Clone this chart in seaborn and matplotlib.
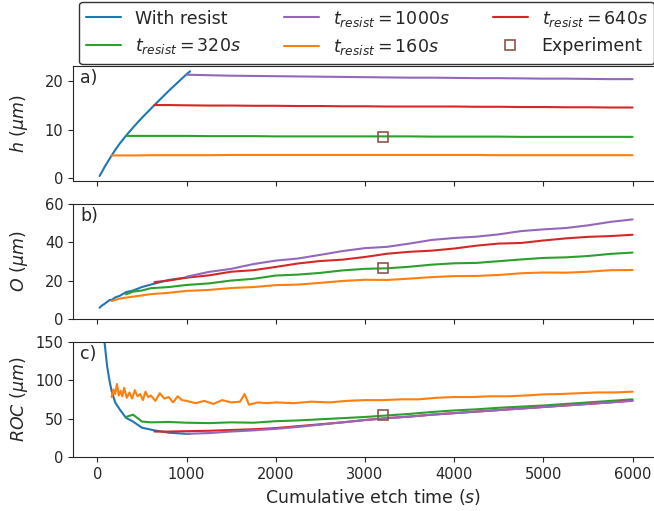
import matplotlib
matplotlib.use('Agg')
import matplotlib.pyplot as plt
from matplotlib.lines import Line2D
import seaborn as sns

# --- data (time in s, values in um) ---
t_wr = [25, 50, 80, 110, 140, 160, 200, 250, 320, 400, 500, 640, 800, 1000, 1040]
h_wr = [0.5, 1.3, 2.3, 3.2, 4.1, 4.7, 5.8, 7.1, 8.7, 10.4, 12.4, 15.0, 17.9, 21.3, 21.9]
o_wr = [5.8, 6.9, 7.8, 8.9, 9.9, 9.8, 11.2, 12.0, 13.9, 14.8, 16.6, 18.4, 20.3, 21.6, 22.2]
roc_wr = [260, 200, 150, 118, 97, 86, 71, 62, 51, 46, 38, 34.5, 31.5, 30, 30]

t_160 = [160, 250, 400, 600, 800, 1000, 1250, 1500, 1750, 2000, 2250, 2500, 2750, 3000, 3250, 3500,
         3750, 4000, 4250, 4500, 4750, 5000, 5250, 5500, 5750, 6000]
h_160 = [4.7, 4.7, 4.7, 4.75, 4.75, 4.75, 4.75, 4.8, 4.8, 4.8, 4.8, 4.8, 4.8, 4.8, 4.8, 4.8,
         4.8, 4.8, 4.8, 4.75, 4.75, 4.75, 4.75, 4.75, 4.75, 4.75]
o_160 = [9.3, 10.6, 11.6, 12.9, 13.6, 14.6, 15.1, 16.1, 16.6, 17.6, 17.9, 18.8, 19.8, 20.4, 20.3, 21.0,
         21.8, 22.3, 22.4, 22.9, 23.8, 24.2, 24.1, 24.6, 25.4, 25.5]

t_160_roc = [160, 180, 200, 220, 240, 260, 280, 300, 330, 360,
             390, 420, 450, 480, 510, 540, 570, 600, 650, 700,
             750, 800, 850, 900, 950, 1000, 1100, 1200, 1300, 1400,
             1500, 1600, 1650, 1700, 1800, 1900, 2000, 2200, 2400, 2600,
             2800, 3000, 3200, 3400, 3600, 3800, 4000, 4200, 4400, 4600,
             4800, 5000, 5200, 5400, 5600, 5800, 6000]
roc_160 = [78, 88, 82, 95, 80, 86, 79, 90, 77, 84,
           76, 87, 79, 82, 74, 85, 78, 80, 73, 83,
           76, 78, 71, 79, 74, 73, 70, 73, 69, 74,
           71, 72, 82, 68, 71, 70, 71, 70, 72, 71,
           73, 74, 74, 75, 75, 77, 78, 78, 79, 79,
           80, 81.5, 82, 83, 84, 84, 85]

t_320 = [320, 400, 500, 600, 800, 1000, 1250, 1500, 1750, 2000, 2250, 2500, 2750, 3000, 3250, 3500,
         3750, 4000, 4250, 4500, 4750, 5000, 5250, 5500, 5750, 6000]
h_320 = [8.7, 8.7, 8.7, 8.7, 8.7, 8.7, 8.65, 8.65, 8.65, 8.6, 8.6, 8.6, 8.6, 8.6, 8.6, 8.6,
         8.55, 8.55, 8.55, 8.55, 8.5, 8.5, 8.5, 8.5, 8.5, 8.5]
o_320 = [12.8, 14.2, 14.8, 16.0, 16.6, 17.7, 18.5, 20.0, 20.9, 22.6, 23.1, 24.0, 25.3, 26.1, 26.4, 27.2,
         28.3, 29.0, 29.2, 30.1, 31.0, 31.8, 32.1, 32.8, 33.9, 34.6]
roc_320 = [52, 55, 46, 45, 45.5, 44.5, 44, 45, 44.5, 46.5, 47.5, 49, 50.5, 52, 54, 56,
           58.5, 60.5, 62, 64, 65.5, 67, 69, 71, 73, 75]

t_640 = [640, 800, 1000, 1250, 1500, 1750, 2000, 2250, 2500, 2750, 3000, 3250, 3500, 3750, 4000,
         4250, 4500, 4750, 5000, 5250, 5500, 5750, 6000]
h_640 = [15.0, 15.0, 14.95, 14.9, 14.9, 14.85, 14.85, 14.8, 14.8, 14.75, 14.75, 14.7, 14.7, 14.7, 14.7,
         14.65, 14.65, 14.6, 14.6, 14.55, 14.55, 14.5, 14.5]
o_640 = [19.2, 20.0, 21.5, 22.7, 24.6, 25.4, 27.1, 28.9, 30.2, 30.9, 32.3, 34.0, 35.0, 35.6, 36.7,
         38.2, 39.3, 39.6, 40.9, 42.0, 42.8, 43.2, 43.9]
roc_640 = [33, 33, 33.5, 34, 35, 36, 37.5, 40, 42.5, 45, 48, 50.5, 52.5, 55, 57,
           59, 61, 63, 65, 67, 69, 71, 73.5]

t_1000 = [1000, 1250, 1500, 1750, 2000, 2250, 2500, 2750, 3000, 3250, 3500, 3750, 4000, 4250, 4500,
          4750, 5000, 5250, 5500, 5750, 6000]
h_1000 = [21.2, 21.1, 21.0, 20.95, 20.9, 20.85, 20.8, 20.75, 20.7, 20.65, 20.6, 20.6, 20.55, 20.5, 20.5,
          20.45, 20.4, 20.4, 20.35, 20.3, 20.3]
o_1000 = [22.0, 24.5, 26.1, 28.6, 30.4, 31.5, 33.4, 35.4, 36.9, 37.6, 39.3, 41.2, 42.2, 42.9, 44.1,
          45.8, 46.7, 47.4, 48.8, 50.6, 51.9]
roc_1000 = [30, 31, 33, 34.5, 36.5, 39, 42, 45, 48, 50.5, 52.5, 55, 57, 59, 61,
            63, 65, 67, 69, 71, 73]

t_exp = [3200]
h_exp = [8.5]
o_exp = [26.5]
roc_exp = [55]

sns.set_style('ticks')
plt.rcParams['font.family'] = ['DejaVu Sans']
plt.rcParams['mathtext.fontset'] = 'dejavusans'

cols = sns.color_palette('tab10')

fig, axes = plt.subplots(3, 1, figsize=(6.54, 5.11), dpi=100, sharex=True)
# axes run past the right edge of the picture, as in the cropped original
fig.subplots_adjust(left=0.112, right=1.03, top=0.871, bottom=0.106, hspace=0.2)

series = [
    (t_wr, [h_wr, o_wr, roc_wr], cols[0]),
    (t_160, [h_160, o_160, None], cols[1]),
    (t_320, [h_320, o_320, roc_320], cols[2]),
    (t_640, [h_640, o_640, roc_640], cols[3]),
    (t_1000, [h_1000, o_1000, roc_1000], cols[4]),
]

for i, ax in enumerate(axes):
    for t, vals, c in series:
        v = vals[i]
        tt = t
        if v is None:
            tt, v = t_160_roc, roc_160
        sns.lineplot(x=tt, y=v, ax=ax, color=c, lw=1.5, legend=False,
                     estimator=None, sort=False)
    exp = [h_exp, o_exp, roc_exp][i]
    ax.plot(t_exp, exp, 's', mfc='none', mec=cols[5], ms=7, mew=1.2)

ylabels = [r'$h\ (\mu m)$', r'$O\ (\mu m)$', r'$ROC\ (\mu m)$']
tags = ['a)', 'b)', 'c)']
for ax, yl, tag in zip(axes, ylabels, tags):
    ax.set_ylabel(yl, fontsize=12.5)
    ax.text(0.012, 0.97, tag, transform=ax.transAxes, va='top', ha='left', fontsize=12.5)
    ax.tick_params(labelsize=10.5)

axes[0].set_ylim(-0.5, 23)
axes[0].set_yticks([0, 10, 20])
axes[1].set_ylim(0, 60)
axes[1].set_yticks([0, 20, 40, 60])
axes[2].set_ylim(0, 150)
axes[2].set_yticks([0, 50, 100, 150])
axes[2].set_xlim(-270, 6460)
axes[2].set_xticks([0, 1000, 2000, 3000, 4000, 5000, 6000])
axes[2].set_xlabel(r'Cumulative etch time $(s)$', fontsize=12.5)
fig.align_ylabels(axes)

handles = [
    Line2D([], [], color=cols[0], lw=1.5),
    Line2D([], [], color=cols[2], lw=1.5),
    Line2D([], [], color=cols[4], lw=1.5),
    Line2D([], [], color=cols[1], lw=1.5),
    Line2D([], [], color=cols[3], lw=1.5),
    Line2D([], [], ls='none', marker='s', mfc='none', mec=cols[5], ms=7, mew=1.2),
]
labels = ['With resist', r'$t_{resist}=320s$', r'$t_{resist}=1000s$',
          r'$t_{resist}=160s$', r'$t_{resist}=640s$', 'Experiment']
leg = axes[0].legend(handles, labels, loc='lower center', bbox_to_anchor=(0.489, 1.0),
                     ncol=3, fontsize=12.5, frameon=True, borderaxespad=0.1,
                     columnspacing=2.5, edgecolor='0.2', framealpha=1)

fig.savefig('out.png', dpi=100)
